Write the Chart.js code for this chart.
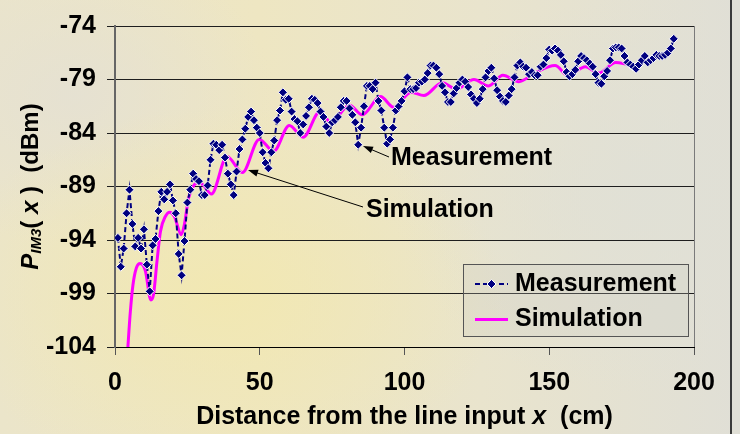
<!DOCTYPE html>
<html>
<head>
<meta charset="utf-8">
<script src="https://cdn.jsdelivr.net/npm/chart.js@4.4.1/dist/chart.umd.min.js"></script>
<style>
html, body { margin: 0; padding: 0; }
body {
  width: 740px; height: 434px; overflow: hidden; position: relative;
  background:
    radial-gradient(ellipse 280px 190px at 30% 68%, rgba(242,232,176,0.9), rgba(242,232,176,0) 100%),
    radial-gradient(ellipse 200px 150px at 10% 22%, rgba(228,224,212,0.8), rgba(228,224,212,0) 100%),
    radial-gradient(ellipse 260px 200px at 88% 45%, rgba(224,224,214,0.9), rgba(224,224,214,0) 100%),
    linear-gradient(90deg, #ebe5ca 0%, #eee6c2 35%, #e9e4cd 65%, #e0dfd6 100%);
}
#box { position: absolute; left: 0; top: 0; width: 740px; height: 434px; }
#edge { position: absolute; left: 730px; top: 0; width: 2px; height: 434px; background: #3a3a3a; }
</style>
</head>
<body>
<div id="box"><canvas id="imChart" width="740" height="434"></canvas></div>
<div id="edge"></div>
<script>
// 測定値 (1 cm 刻み)
const measX = [
  1,2,3,4,5,6,7,8,9,10,11,12,13,14,15,16,17,18,19,20,
  21,22,23,24,25,26,27,28,29,30,31,32,33,34,35,36,37,38,39,40,
  41,42,43,44,45,46,47,48,49,50,51,52,53,54,55,56,57,58,59,60,
  61,62,63,64,65,66,67,68,69,70,71,72,73,74,75,76,77,78,79,80,
  81,82,83,84,85,86,87,88,89,90,91,92,93,94,95,96,97,98,99,100,
  101,102,103,104,105,106,107,108,109,110,111,112,113,114,115,116,117,118,119,120,
  121,122,123,124,125,126,127,128,129,130,131,132,133,134,135,136,137,138,139,140,
  141,142,143,144,145,146,147,148,149,150,151,152,153,154,155,156,157,158,159,160,
  161,162,163,164,165,166,167,168,169,170,171,172,173,174,175,176,177,178,179,180,
  181,182,183,184,185,186,187,188,189,190,191,192,193
];
const measY = [
  -93.8,-96.5,-94.8,-91.5,-89.3,-92.5,-94.6,-93.8,-94.8,-93.0,
  -96.3,-98.8,-94.5,-93.9,-91.3,-89.5,-90.2,-89.5,-88.8,-90.3,
  -91.5,-95.3,-97.3,-94.1,-90.5,-89.3,-87.8,-88.3,-88.5,-89.8,
  -89.8,-88.9,-86.5,-85.0,-85.1,-85.6,-85.1,-86.3,-87.8,-88.8,
  -89.8,-87.6,-85.5,-84.6,-83.6,-82.5,-82.0,-82.8,-83.5,-84.0,
  -85.8,-86.8,-87.3,-85.8,-84.7,-82.8,-81.9,-80.2,-80.9,-80.8,
  -82.0,-82.7,-82.9,-84.0,-83.2,-82.4,-81.6,-80.8,-80.9,-81.2,
  -82.0,-82.5,-83.4,-84.0,-83.0,-82.8,-82.5,-81.6,-81.0,-81.0,
  -81.7,-82.3,-83.0,-85.1,-83.5,-81.5,-79.6,-79.6,-79.9,-79.3,
  -81.0,-81.9,-83.5,-85.0,-84.6,-83.5,-81.9,-81.5,-81.0,-80.1,
  -78.8,-79.9,-79.9,-79.8,-79.3,-79.2,-79.0,-78.4,-77.7,-77.7,
  -77.9,-78.5,-79.6,-80.2,-81.1,-81.1,-80.3,-79.8,-79.3,-79.0,
  -79.2,-79.7,-80.4,-80.8,-81.2,-80.8,-79.9,-78.8,-78.2,-77.9,
  -78.9,-80.0,-80.6,-81.0,-81.1,-80.5,-79.9,-78.8,-77.7,-77.4,
  -77.8,-77.9,-78.5,-78.3,-78.6,-78.6,-77.8,-77.6,-77.0,-76.2,
  -76.3,-76.1,-76.3,-76.7,-77.3,-78.3,-78.7,-78.5,-78.1,-77.3,
  -76.8,-77.0,-77.2,-77.5,-77.8,-78.5,-79.3,-79.4,-78.7,-78.2,
  -77.2,-76.1,-76.0,-76.0,-76.1,-76.8,-77.4,-77.6,-77.8,-78.0,
  -77.6,-77.2,-76.8,-77.4,-77.2,-77.0,-76.7,-76.8,-76.8,-76.7,
  -76.5,-76.1,-75.2
];

// シミュレーション (山と谷を中心に読み取り)
const simX = [4.3, 5.3, 6.2, 7.4, 8.7, 10.5, 12.4, 13.3, 14.5, 15.7, 17.4, 18.9, 20.5, 22.9, 24.0,
  25.4, 27.2, 28.8, 30.6, 33.3, 38.7, 44.0, 49.8, 54.8, 60.2, 65.0, 70.8, 74.5, 81.0, 85.4,
  91.7, 96.3, 102.3, 106.7, 113.0, 118.0, 124.0, 129.0, 134.0, 139.5, 145.0, 152.0, 156.5,
  162.5, 167.0, 173.0, 177.0];
const simY = [-104.6, -100.7, -98.2, -96.6, -96.2, -96.9, -99.6, -99.1, -96.0, -93.2, -91.8, -91.4, -91.8, -93.5, -92.5,
  -90.1, -88.9, -88.6, -88.9, -89.7, -86.2, -87.7, -84.6, -85.7, -83.3, -84.4, -82.0, -83.0, -81.4, -82.3,
  -80.6, -81.6, -80.2, -80.5, -79.3, -79.9, -79.0, -79.6, -78.6, -79.2, -78.4, -77.7, -78.6,
  -77.8, -78.4, -77.4, -77.6];

const xTicks = [0, 50, 100, 150, 200];
const yTicks = [-104, -99, -94, -89, -84, -79, -74];

const FONT = 'Liberation Sans, Arial, sans-serif';
const TXT = 'bold 25px ' + FONT;

function arrow(c, x1, y1, x2, y2) {
  // (x1,y1) から (x2,y2) へ、先端に三角
  const a = Math.atan2(y2 - y1, x2 - x1);
  c.beginPath();
  c.moveTo(x1, y1);
  c.lineTo(x2 - 7 * Math.cos(a), y2 - 7 * Math.sin(a));
  c.stroke();
  c.beginPath();
  c.moveTo(x2, y2);
  c.lineTo(x2 - 10 * Math.cos(a) + 3.5 * Math.sin(a), y2 - 10 * Math.sin(a) - 3.5 * Math.cos(a));
  c.lineTo(x2 - 10 * Math.cos(a) - 3.5 * Math.sin(a), y2 - 10 * Math.sin(a) + 3.5 * Math.cos(a));
  c.closePath();
  c.fill();
}

function pieces(c, parts, x, y) {
  // parts: [text, font, dy]
  let cx = x;
  parts.forEach(p => {
    c.font = p[1];
    c.fillText(p[0], cx, y + (p[2] || 0));
    cx += c.measureText(p[0]).width;
  });
}
function piecesWidth(c, parts) {
  let w = 0;
  parts.forEach(p => { c.font = p[1]; w += c.measureText(p[0]).width; });
  return w;
}

const decor = {
  id: 'decor',
  afterDraw(chart) {
    const c = chart.ctx;
    const area = chart.chartArea;
    c.save();
    c.fillStyle = '#000';
    c.strokeStyle = '#000';
    c.textBaseline = 'middle';

    // x軸タイトル
    const xt = [
      ['Distance from the line input ', TXT],
      ['x', 'italic bold 25px ' + FONT],
      ['  (cm)', TXT]
    ];
    const xw = piecesWidth(c, xt);
    pieces(c, xt, (area.left + area.right) / 2 - xw / 2, 417);

    // y軸タイトル
    c.save();
    c.translate(31, (area.top + area.bottom) / 2);
    c.rotate(-Math.PI / 2);
    const yt = [
      ['P', 'italic bold 24px ' + FONT],
      ['IM3', 'italic bold 15px ' + FONT, 6],
      ['( ', 'bold 24px ' + FONT],
      ['x', 'italic bold 24px ' + FONT],
      [' )  (dBm)', 'bold 24px ' + FONT]
    ];
    const yw = piecesWidth(c, yt);
    pieces(c, yt, -yw / 2, 0);
    c.restore();

    // 注釈
    c.font = TXT;
    c.fillText('Measurement', 391, 158);
    c.fillText('Simulation', 366, 210);
    c.lineWidth = 1;
    arrow(c, 389, 157, 363, 146);
    arrow(c, 363, 207, 248, 170);

    // 凡例
    c.fillStyle = 'rgba(205,205,195,0.25)';
    c.fillRect(463.5, 264.5, 225, 72);
    c.strokeStyle = '#555';
    c.strokeRect(463.5, 264.5, 225, 72);
    c.strokeStyle = '#000080';
    c.lineWidth = 2;
    c.setLineDash([5, 3]);
    c.beginPath(); c.moveTo(475, 284); c.lineTo(508, 284); c.stroke();
    c.setLineDash([]);
    c.fillStyle = '#000080';
    c.strokeStyle = '#fff';
    c.lineWidth = 1;
    c.beginPath();
    c.moveTo(491.5, 279.5); c.lineTo(496, 284); c.lineTo(491.5, 288.5); c.lineTo(487, 284);
    c.closePath(); c.fill(); c.stroke();
    c.strokeStyle = '#ff00ff';
    c.lineWidth = 3;
    c.beginPath(); c.moveTo(475, 319.5); c.lineTo(508, 319.5); c.stroke();
    c.fillStyle = '#000';
    c.font = TXT;
    c.fillText('Measurement', 515, 284);
    c.fillText('Simulation', 515, 319.5);
    c.restore();
  }
};

const ctx = document.getElementById('imChart').getContext('2d');

const imChart = new Chart(ctx, {
  type: 'line',
  data: {
    datasets: [
      {
        label: 'Measurement',
        data: measX.map((x, i) => ({ x: x, y: measY[i] })),
        borderColor: '#000080',
        borderWidth: 2,
        borderDash: [5, 3],
        pointStyle: 'rectRot',
        pointRadius: 4.5,
        pointBackgroundColor: '#000080',
        pointBorderColor: '#ffffff',
        pointBorderWidth: 1,
        tension: 0
      },
      {
        label: 'Simulation',
        data: simX.map((x, i) => ({ x: x, y: simY[i] })),
        borderColor: '#ff00ff',
        borderWidth: 3,
        pointRadius: 0,
        cubicInterpolationMode: 'monotone'
      }
    ]
  },
  options: {
    responsive: false,
    animation: false,
    layout: { padding: { left: 0, right: 46, top: 23, bottom: 0 } },
    plugins: { legend: { display: false }, tooltip: { enabled: false } },
    scales: {
      x: {
        type: 'linear', min: 0, max: 200,
        afterBuildTicks: s => { s.ticks = xTicks.map(v => ({ value: v })); },
        afterFit: s => { s.height = 87; },
        grid: {
          color: c => (c.tick && c.tick.value === 200) ? '#7a7a7a' : 'rgba(0,0,0,0)',
          tickColor: '#555', tickLength: 8, lineWidth: 1
        },
        border: { color: '#000', width: 1 },
        ticks: { color: '#000', font: { family: FONT, size: 25, weight: 'bold' }, padding: 13, maxRotation: 0 }
      },
      y: {
        type: 'linear', min: -104, max: -74,
        afterBuildTicks: s => { s.ticks = yTicks.map(v => ({ value: v })); },
        afterFit: s => { s.width = 115; },
        grid: { color: '#1e1e1e', tickColor: '#1e1e1e', tickLength: 8, lineWidth: 1 },
        border: { color: '#666', width: 2 },
        ticks: { color: '#000', font: { family: FONT, size: 25, weight: 'bold' }, padding: 11 }
      }
    }
  },
  plugins: [decor]
});
</script>
</body>
</html>
